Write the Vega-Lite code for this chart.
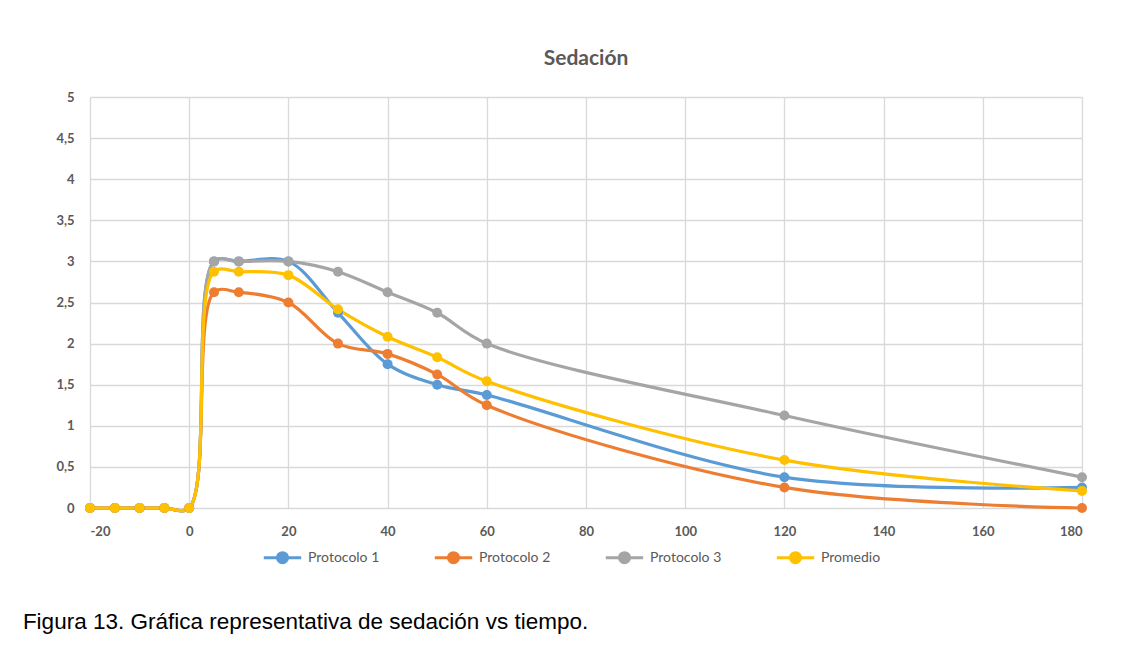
{
  "$schema": "https://vega.github.io/schema/vega-lite/v6.json",
  "background": "white",
  "padding": {"left": 22, "top": 48, "right": 10, "bottom": 10},
  "title": {
    "text": "Figura 13.  Gráfica representativa de sedación vs tiempo.",
    "orient": "bottom",
    "anchor": "start",
    "font": "Liberation Sans",
    "fontSize": 22.5,
    "fontWeight": "normal",
    "color": "black",
    "offset": 42,
    "dx": -33
  },
  "data": {
    "values": [
      {"t": -20, "serie": "Protocolo 1", "v": 0},
      {"t": -15, "serie": "Protocolo 1", "v": 0},
      {"t": -10, "serie": "Protocolo 1", "v": 0},
      {"t": -5, "serie": "Protocolo 1", "v": 0},
      {"t": 0, "serie": "Protocolo 1", "v": 0},
      {"t": 5, "serie": "Protocolo 1", "v": 3},
      {"t": 10, "serie": "Protocolo 1", "v": 3},
      {"t": 20, "serie": "Protocolo 1", "v": 3},
      {"t": 30, "serie": "Protocolo 1", "v": 2.375},
      {"t": 40, "serie": "Protocolo 1", "v": 1.75},
      {"t": 50, "serie": "Protocolo 1", "v": 1.5},
      {"t": 60, "serie": "Protocolo 1", "v": 1.375},
      {"t": 120, "serie": "Protocolo 1", "v": 0.375},
      {"t": 180, "serie": "Protocolo 1", "v": 0.25},
      {"t": -20, "serie": "Protocolo 2", "v": 0},
      {"t": -15, "serie": "Protocolo 2", "v": 0},
      {"t": -10, "serie": "Protocolo 2", "v": 0},
      {"t": -5, "serie": "Protocolo 2", "v": 0},
      {"t": 0, "serie": "Protocolo 2", "v": 0},
      {"t": 5, "serie": "Protocolo 2", "v": 2.625},
      {"t": 10, "serie": "Protocolo 2", "v": 2.625},
      {"t": 20, "serie": "Protocolo 2", "v": 2.5},
      {"t": 30, "serie": "Protocolo 2", "v": 2},
      {"t": 40, "serie": "Protocolo 2", "v": 1.875},
      {"t": 50, "serie": "Protocolo 2", "v": 1.625},
      {"t": 60, "serie": "Protocolo 2", "v": 1.25},
      {"t": 120, "serie": "Protocolo 2", "v": 0.25},
      {"t": 180, "serie": "Protocolo 2", "v": 0},
      {"t": -20, "serie": "Protocolo 3", "v": 0},
      {"t": -15, "serie": "Protocolo 3", "v": 0},
      {"t": -10, "serie": "Protocolo 3", "v": 0},
      {"t": -5, "serie": "Protocolo 3", "v": 0},
      {"t": 0, "serie": "Protocolo 3", "v": 0},
      {"t": 5, "serie": "Protocolo 3", "v": 3},
      {"t": 10, "serie": "Protocolo 3", "v": 3},
      {"t": 20, "serie": "Protocolo 3", "v": 3},
      {"t": 30, "serie": "Protocolo 3", "v": 2.875},
      {"t": 40, "serie": "Protocolo 3", "v": 2.625},
      {"t": 50, "serie": "Protocolo 3", "v": 2.375},
      {"t": 60, "serie": "Protocolo 3", "v": 2},
      {"t": 120, "serie": "Protocolo 3", "v": 1.125},
      {"t": 180, "serie": "Protocolo 3", "v": 0.375},
      {"t": -20, "serie": "Promedio", "v": 0},
      {"t": -15, "serie": "Promedio", "v": 0},
      {"t": -10, "serie": "Promedio", "v": 0},
      {"t": -5, "serie": "Promedio", "v": 0},
      {"t": 0, "serie": "Promedio", "v": 0},
      {"t": 5, "serie": "Promedio", "v": 2.875},
      {"t": 10, "serie": "Promedio", "v": 2.875},
      {"t": 20, "serie": "Promedio", "v": 2.833},
      {"t": 30, "serie": "Promedio", "v": 2.417},
      {"t": 40, "serie": "Promedio", "v": 2.083},
      {"t": 50, "serie": "Promedio", "v": 1.833},
      {"t": 60, "serie": "Promedio", "v": 1.542},
      {"t": 120, "serie": "Promedio", "v": 0.583},
      {"t": 180, "serie": "Promedio", "v": 0.208}
    ]
  },
  "vconcat": [
    {
      "width": 992,
      "height": 411,
      "title": {
        "text": "Sedación",
        "font": "Lato",
        "fontSize": 21,
        "fontWeight": "bold",
        "color": "#595959",
        "offset": 22
      },
      "encoding": {
        "x": {
          "field": "t",
          "type": "quantitative",
          "scale": {"domain": [-20, 180], "nice": false, "zero": false},
          "axis": {
            "values": [-20, 0, 20, 40, 60, 80, 100, 120, 140, 160, 180],
            "labelExpr": "'' + datum.value",
            "labelPadding": 17
          }
        },
        "y": {
          "field": "v",
          "type": "quantitative",
          "scale": {"domain": [0, 5], "nice": false},
          "axis": {
            "values": [0, 0.5, 1, 1.5, 2, 2.5, 3, 3.5, 4, 4.5, 5],
            "labelExpr": "replace('' + datum.value, '.', ',')",
            "labelPadding": 16
          }
        },
        "color": {
          "field": "serie",
          "type": "nominal",
          "sort": ["Protocolo 1", "Protocolo 2", "Protocolo 3", "Promedio"],
          "scale": {
            "domain": ["Protocolo 1", "Protocolo 2", "Protocolo 3", "Promedio"],
            "range": ["#5B9BD5", "#ED7D31", "#A5A5A5", "#FFC000"]
          },
          "legend": {
            "orient": "none",
            "legendX": 172,
            "legendY": 440,
            "encode": {
              "symbols": {
                "update": {
                  "fill": {"scale": "color", "field": "value"},
                  "stroke": {"scale": "color", "field": "value"}
                }
              }
            }
          }
        }
      },
      "layer": [
        {
          "mark": {"type": "line", "interpolate": "catmull-rom", "strokeWidth": 3.2},
          "encoding": {"order": {"field": "t", "type": "quantitative"}}
        },
        {
          "mark": {"type": "point", "filled": true, "size": 100, "opacity": 1}
        }
      ]
    }
  ],
  "config": {
    "view": {"stroke": null},
    "axis": {
      "labelFont": "Lato",
      "labelFontSize": 13,
      "labelFontWeight": "bold",
      "labelColor": "#595959",
      "gridColor": "#d9d9d9",
      "gridWidth": 1.3,
      "domain": false,
      "ticks": false,
      "title": null
    },
    "legend": {
      "direction": "horizontal",
      "title": null,
      "symbolType": "M-1,0L1,0M0.27,0A0.27,0.27,0,1,1,-0.27,0A0.27,0.27,0,1,1,0.27,0",
      "symbolSize": 1400,
      "symbolStrokeWidth": 3,
      "labelFont": "Lato",
      "labelFontSize": 14,
      "labelColor": "#595959",
      "labelOffset": 5,
      "columnPadding": 48
    }
  }
}
